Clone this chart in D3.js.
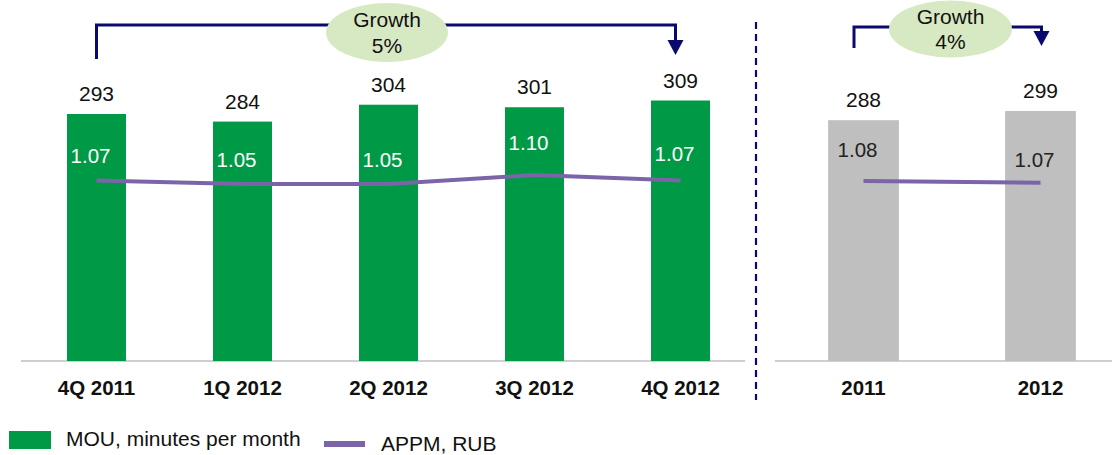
<html>
<head>
<script src="https://d3js.org/d3.v7.min.js"></script>
<style>
  body { margin: 0; background: #fff; }
  text { font-family: "Liberation Sans", Arial, sans-serif; }
</style>
</head>
<body>
<div id="chart"></div>
<script>
// quarterly panel
var quarters = ["4Q 2011", "1Q 2012", "2Q 2012", "3Q 2012", "4Q 2012"];
var mouQ = [293, 284, 304, 301, 309];
var appmQ = [1.07, 1.05, 1.05, 1.10, 1.07];
// yearly panel
var years = ["2011", "2012"];
var mouY = [288, 299];
var appmY = [1.08, 1.07];
var growthQ = ["Growth", "5%"];
var growthY = ["Growth", "4%"];

var width = 1112, height = 455, base = 361;
var green = "#009A46", grey = "#BFBFBF", purple = "#7B64A8", navy = "#0A0A6E";

var svg = d3.select("#chart").append("svg")
  .attr("width", width).attr("height", height);

// scales
var xQ = d3.scaleBand().domain(quarters).range([23.5, 753.5])
  .paddingInner(0.596).paddingOuter(0.298);
var xY = d3.scaleBand().domain(years).range([775, 1129])
  .paddingInner(0.6).paddingOuter(0.3);
var yQ = d3.scaleLinear().domain([0, 309]).range([base, 100.5]);
var yY = d3.scaleLinear().domain([0, 299]).range([base, 111]);
var lQ = d3.scaleLinear().domain([1.05, 1.10]).range([184, 175]);
var lY = d3.scaleLinear().domain([1.07, 1.08]).range([182.7, 181]);

function panel(cats, mou, appm, x, y, l, fill, labColor, labOffsets) {
  var g = svg.append("g");
  g.selectAll("rect").data(mou).enter().append("rect")
    .attr("x", (d, i) => x(cats[i]))
    .attr("y", d => y(d))
    .attr("width", x.bandwidth())
    .attr("height", d => base - y(d))
    .attr("fill", fill);

  g.selectAll("text.val").data(mou).enter().append("text")
    .attr("class", "val")
    .attr("x", (d, i) => x(cats[i]) + x.bandwidth() / 2)
    .attr("y", d => y(d) - 13)
    .attr("text-anchor", "middle")
    .attr("font-size", 21)
    .attr("fill", "#111")
    .text(d => d);

  var line = d3.line()
    .x((d, i) => x(cats[i]) + x.bandwidth() / 2)
    .y(d => l(d));
  g.append("path").datum(appm)
    .attr("d", line)
    .attr("fill", "none")
    .attr("stroke", purple)
    .attr("stroke-width", 4);

  g.selectAll("text.appm").data(appm).enter().append("text")
    .attr("class", "appm")
    .attr("x", (d, i) => x(cats[i]) + x.bandwidth() / 2 - 6)
    .attr("y", (d, i) => l(d) - labOffsets[i])
    .attr("text-anchor", "middle")
    .attr("font-size", 20.5)
    .attr("fill", labColor)
    .text(d => d.toFixed(2));

  var ax = g.append("g")
    .attr("transform", "translate(0," + base + ")")
    .call(d3.axisBottom(x).tickSize(0).tickPadding(19));
  ax.select(".domain").remove();
  ax.selectAll("text")
    .attr("font-family", "Liberation Sans, Arial, sans-serif")
    .attr("font-size", 20.5)
    .attr("font-weight", "bold")
    .attr("fill", "#111");
}

// baselines
svg.append("line").attr("x1", 21).attr("x2", 745).attr("y1", base).attr("y2", base)
  .attr("stroke", grey).attr("stroke-width", 1.5);
svg.append("line").attr("x1", 775).attr("x2", 1112).attr("y1", base).attr("y2", base)
  .attr("stroke", grey).attr("stroke-width", 1.5);

panel(quarters, mouQ, appmQ, xQ, yQ, lQ, green, "#fff", [17, 17, 17, 25, 19]);
panel(years, mouY, appmY, xY, yY, lY, grey, "#222", [24, 16]);

// separator
svg.append("line").attr("x1", 756).attr("x2", 756).attr("y1", 22).attr("y2", 400)
  .attr("stroke", navy).attr("stroke-width", 2.2).attr("stroke-dasharray", "7,5");

// growth brackets
function bracket(x1, x2, yTop, yLeft, tip, cx, cy, rx, ry, lines) {
  var g = svg.append("g");
  g.append("path")
    .attr("d", "M" + x1 + "," + yLeft + "V" + yTop + "H" + x2 + "V" + (tip - 14))
    .attr("fill", "none").attr("stroke", navy).attr("stroke-width", 3);
  g.append("path")
    .attr("d", "M" + (x2 - 8) + "," + (tip - 15) + "L" + (x2 + 8) + "," + (tip - 15) + "L" + x2 + "," + tip + "Z")
    .attr("fill", navy);
  g.append("ellipse").attr("cx", cx).attr("cy", cy).attr("rx", rx).attr("ry", ry)
    .attr("fill", "#D7E9C3");
  g.selectAll("text").data(lines).enter().append("text")
    .attr("x", cx).attr("y", (d, i) => cy - 5.5 + i * 25.5)
    .attr("text-anchor", "middle").attr("font-size", 21).attr("fill", "#111")
    .text(d => d);
}
bracket(xQ(quarters[0]) + xQ.bandwidth() / 2, xQ(quarters[4]) + xQ.bandwidth() / 2 - 5,
  25, 59, 55, 387, 32.5, 61, 29.5, growthQ);
bracket(xY(years[0]) + xY.bandwidth() / 2 - 9.5, xY(years[1]) + xY.bandwidth() / 2 + 1,
  27, 48, 46, 950.5, 29, 61.5, 28.5, growthY);

// legend
var lg = svg.append("g");
lg.append("rect").attr("x", 9).attr("y", 431).attr("width", 42).attr("height", 18).attr("fill", green);
lg.append("text").attr("x", 66).attr("y", 446).attr("font-size", 21).attr("fill", "#111")
  .text("MOU, minutes per month");
lg.append("line").attr("x1", 324).attr("x2", 365).attr("y1", 444).attr("y2", 444)
  .attr("stroke", purple).attr("stroke-width", 6);
lg.append("text").attr("x", 381).attr("y", 451).attr("font-size", 21).attr("fill", "#111")
  .text("APPM, RUB");
</script>
</body>
</html>
